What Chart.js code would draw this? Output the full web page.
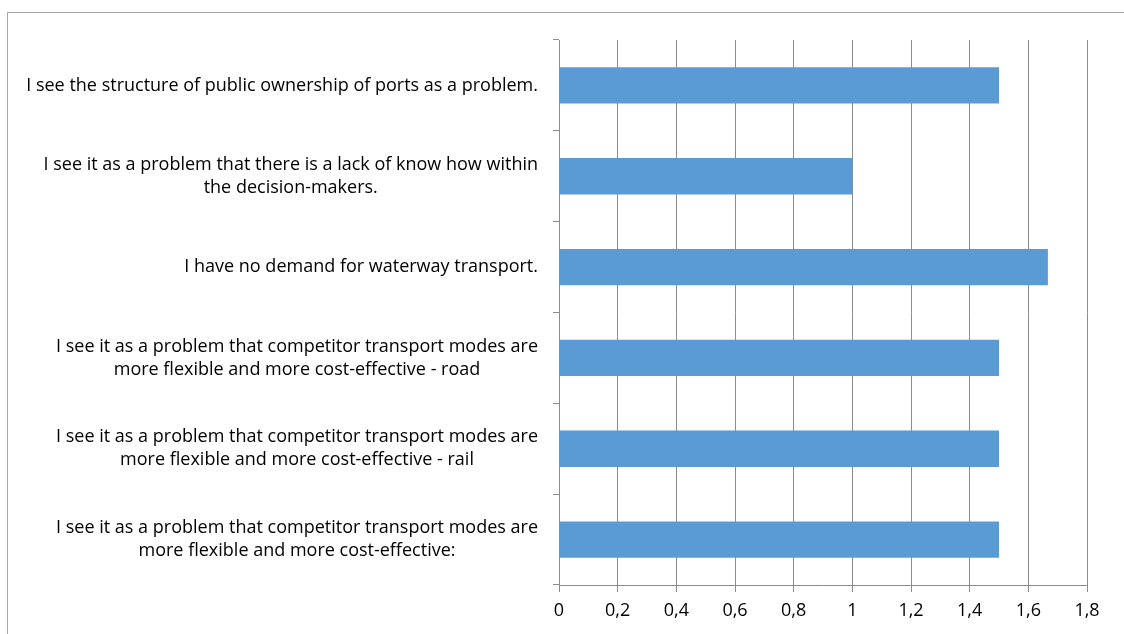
<!DOCTYPE html>
<html>
<head>
<meta charset="utf-8">
<script src="https://cdn.jsdelivr.net/npm/chart.js@4/dist/chart.umd.min.js"></script>
<style>
  html, body { margin: 0; padding: 0; background: #fff; overflow: hidden; }
  #frame { position: absolute; left: 7px; top: 12px; width: 1200px; height: 700px; border: 1px solid #a6a6a6; }
  #chart { position: absolute; left: 0; top: 0; }
</style>
</head>
<body>
<div id="frame"></div>
<canvas id="chart" width="1124" height="634"></canvas>
<script>
// categories, top to bottom (each entry = label lines)
const categories = [
  ["I see the structure of public ownership of ports as a problem."],
  ["I see it as a problem that there is a lack of know how within", "the decision-makers."],
  ["I have no demand for waterway transport."],
  ["I see it as a problem that competitor transport modes are", "more flexible and more cost-effective - road"],
  ["I see it as a problem that competitor transport modes are", "more flexible and more cost-effective - rail"],
  ["I see it as a problem that competitor transport modes are", "more flexible and more cost-effective:"]
];
const values = [1.5, 1, 1.6667, 1.5, 1.5, 1.5];
const xMin = 0;
const xMax = 1.8;
const xStep = 0.2;

const fontFamily = "'Open Sans'";
const fontSize = 18;
const lineH = 23;

// y labels: right-aligned block, lines centred within it
const yLabels = {
  id: "yLabels",
  afterDraw(chart) {
    const scale = chart.scales.y;
    const ctx = chart.ctx;
    ctx.save();
    ctx.font = fontSize + "px " + fontFamily;
    ctx.fillStyle = "#000";
    ctx.textAlign = "center";
    ctx.textBaseline = "middle";
    scale.ticks.forEach((t, i) => {
      const lines = categories[i];
      const y = scale.getPixelForTick(i);
      const w = Math.max(...lines.map(l => ctx.measureText(l).width));
      const cx = scale.right - 21 - w / 2;
      lines.forEach((l, j) => ctx.fillText(l, cx, y + (j - (lines.length - 1) / 2) * lineH));
    });
    ctx.restore();
  }
};

new Chart(document.getElementById("chart"), {
  type: "bar",
  data: {
    labels: categories,
    datasets: [
      {
        data: values,
        backgroundColor: "#5b9bd5",
        borderWidth: 0,
        barPercentage: 0.4,
        categoryPercentage: 1
      }
    ]
  },
  options: {
    indexAxis: "y",
    responsive: false,
    animation: false,
    layout: { padding: { top: 40, right: 37, left: 0, bottom: 0 } },
    plugins: {
      legend: { display: false },
      tooltip: { enabled: false }
    },
    scales: {
      x: {
        min: xMin,
        max: xMax,
        ticks: {
          stepSize: xStep,
          color: "#000",
          padding: 8,
          font: { family: "Open Sans", size: fontSize },
          callback: v => String(Math.round(v * 10) / 10).replace(".", ",")
        },
        grid: { color: "#8c8c8c", tickLength: 7 },
        border: { color: "#8c8c8c" },
        afterFit: s => { s.height = 49; }
      },
      y: {
        ticks: { display: false },
        grid: { drawOnChartArea: false, color: "#8c8c8c", tickLength: 6 },
        border: { color: "#8c8c8c" },
        afterFit: s => { s.width = 559; }
      }
    }
  },
  plugins: [yLabels]
});
</script>
</body>
</html>
